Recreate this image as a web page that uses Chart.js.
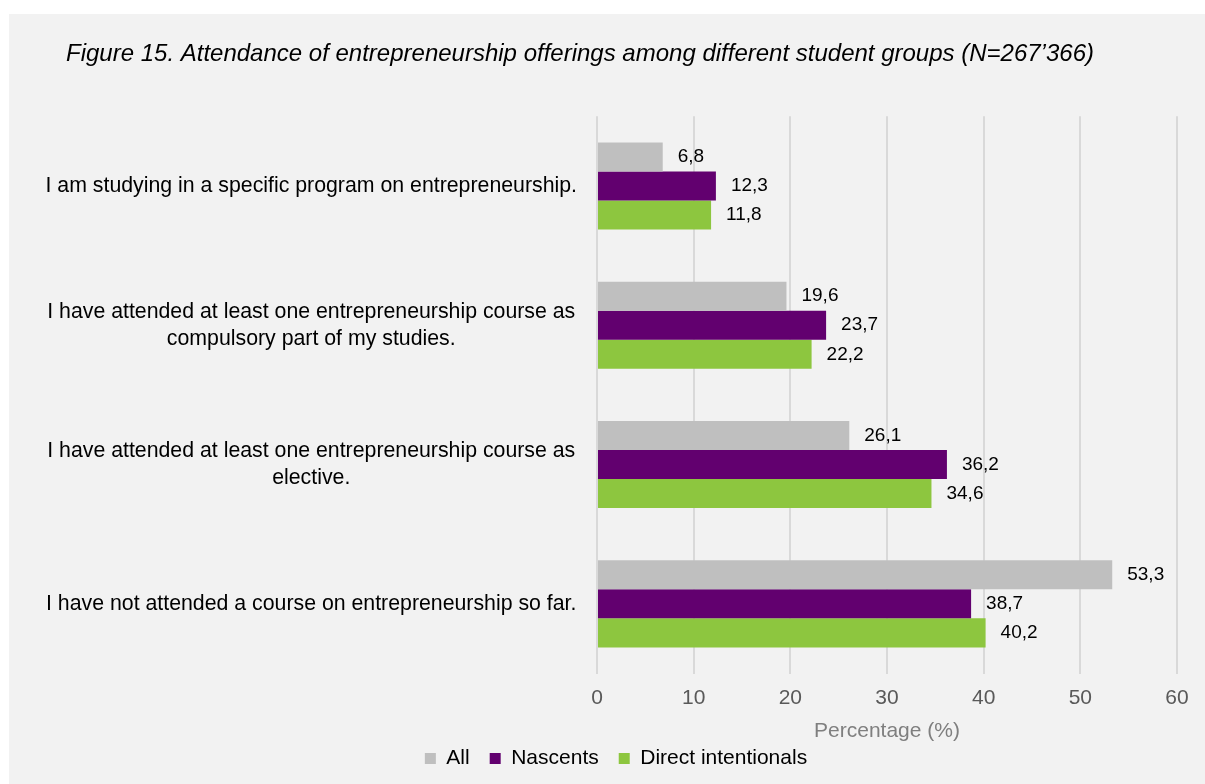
<!DOCTYPE html>
<html>
<head>
<meta charset="utf-8">
<script src="https://cdn.jsdelivr.net/npm/chart.js@4"></script>
<style>
  body { margin: 0; background: #ffffff; }
  .panel {
    position: absolute;
    left: 9px;
    top: 14px;
    width: 1196px;
    height: 770px;
    background: #f2f2f2;
  }
</style>
</head>
<body>
<div class="panel">
  <canvas id="attendance"></canvas>
</div>
<script>
// survey items (multi-line labels as arrays)
const categories = [
  ['I am studying in a specific program on entrepreneurship.'],
  ['I have attended at least one entrepreneurship course as', 'compulsory part of my studies.'],
  ['I have attended at least one entrepreneurship course as', 'elective.'],
  ['I have not attended a course on entrepreneurship so far.']
];
const seriesNames = ['All', 'Nascents', 'Direct intentionals'];
const allStudents = [6.8, 19.6, 26.1, 53.3];
const nascents = [12.3, 23.7, 36.2, 38.7];
const directIntentionals = [11.8, 22.2, 34.6, 40.2];
const xMin = 0;
const xMax = 60;
const xStep = 10;

const fontFamily = "'Liberation Sans', Arial, sans-serif";

// values printed right of each bar, with decimal comma
const barValues = {
  id: 'barValues',
  afterDatasetsDraw(chart) {
    const ctx = chart.ctx;
    ctx.save();
    ctx.font = '19px ' + fontFamily;
    ctx.fillStyle = '#000000';
    ctx.textAlign = 'left';
    ctx.textBaseline = 'middle';
    chart.data.datasets.forEach((ds, i) => {
      const meta = chart.getDatasetMeta(i);
      meta.data.forEach((bar, j) => {
        const txt = ds.data[j].toFixed(1).replace('.', ',');
        ctx.fillText(txt, bar.x + 15, bar.y);
      });
    });
    ctx.restore();
  }
};

// caption sits further right than the label column, legend a little right of centre
const nudgeBoxes = {
  id: 'nudgeBoxes',
  afterLayout(chart) {
    if (chart.titleBlock) chart.titleBlock.left += 27;
    if (chart.legend) {
      chart.legend.left += 8;
      chart.legend.right += 8;
    }
  }
};

const data = {
  labels: categories,
  datasets: [
    { label: seriesNames[0], data: allStudents, backgroundColor: '#bfbfbf' },
    { label: seriesNames[1], data: nascents, backgroundColor: '#62006f' },
    { label: seriesNames[2], data: directIntentionals, backgroundColor: '#8dc63f' }
  ]
};

const config = {
  type: 'bar',
  data: data,
  plugins: [barValues, nudgeBoxes],
  options: {
    indexAxis: 'y',
    responsive: true,
    maintainAspectRatio: false,
    animation: false,
    categoryPercentage: 0.625,
    barPercentage: 1,
    layout: {
      padding: { left: 30, right: 28, top: 0, bottom: 5 }
    },
    scales: {
      x: {
        min: xMin,
        max: xMax,
        ticks: {
          stepSize: xStep,
          color: '#595959',
          font: { family: fontFamily, size: 21 },
          padding: 12
        },
        grid: {
          color: '#d9d9d9',
          lineWidth: 2,
          drawTicks: false
        },
        border: { display: false },
        title: {
          display: true,
          text: 'Percentage (%)',
          color: '#7f7f7f',
          font: { family: fontFamily, size: 21 },
          padding: { top: 0, bottom: -16 }
        },
        afterFit(scale) {
          scale.height = 54.5;
        }
      },
      y: {
        grid: { display: false, drawTicks: false },
        border: { display: false },
        ticks: {
          color: '#000000',
          crossAlign: 'center',
          font: { family: fontFamily, size: 21.3, lineHeight: 1.27 },
          padding: 20
        },
        afterFit(scale) {
          scale.width = 558;
        }
      }
    },
    plugins: {
      title: {
        display: true,
        text: 'Figure 15. Attendance of entrepreneurship offerings among different student groups (N=267\u2019366)',
        align: 'start',
        color: '#000000',
        font: { family: fontFamily, size: 24, style: 'italic', weight: 'normal' },
        padding: { top: 26, bottom: 47.5 }
      },
      legend: {
        position: 'bottom',
        labels: {
          boxWidth: 11,
          boxHeight: 11,
          padding: 20,
          color: '#000000',
          font: { family: fontFamily, size: 21 }
        }
      },
      tooltip: { enabled: false }
    }
  }
};

const myChart = new Chart(document.getElementById('attendance').getContext('2d'), config);
</script>
</body>
</html>
